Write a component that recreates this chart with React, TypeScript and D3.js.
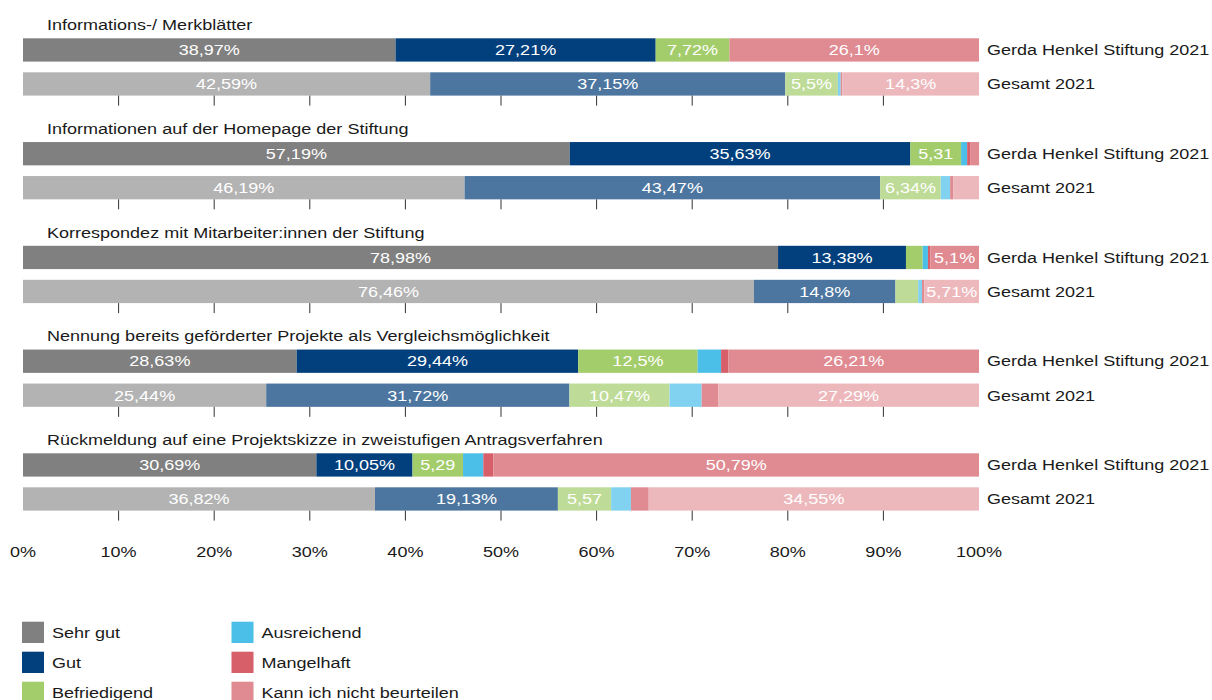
import React from "react";
import * as d3 from "d3";

const categories = [
  "Informations-/ Merkblätter",
  "Informationen auf der Homepage der Stiftung",
  "Korrespondez mit Mitarbeiter:innen der Stiftung",
  "Nennung bereits geförderter Projekte als Vergleichsmöglichkeit",
  "Rückmeldung auf eine Projektskizze in zweistufigen Antragsverfahren",
];
const seriesNames = ["Gerda Henkel Stiftung 2021", "Gesamt 2021"];
const ratings = ["Sehr gut", "Gut", "Befriedigend", "Ausreichend", "Mangelhaft", "Kann ich nicht beurteilen"];

const ghsSehrGut = [38.97, 57.19, 78.98, 28.63, 30.69];
const ghsGut = [27.21, 35.63, 13.38, 29.44, 10.05];
const ghsBefriedigend = [7.72, 5.31, 1.75, 12.5, 5.29];
const ghsAusreichend = [0, 0.63, 0.55, 2.45, 2.12];
const ghsMangelhaft = [0, 0.31, 0.24, 0.77, 1.06];
const ghsKann = [26.1, 0.94, 5.1, 26.21, 50.79];

const gesSehrGut = [42.59, 46.19, 76.46, 25.44, 36.82];
const gesGut = [37.15, 43.47, 14.8, 31.72, 19.13];
const gesBefriedigend = [5.5, 6.34, 2.38, 10.47, 5.57];
const gesAusreichend = [0.3, 0.98, 0.4, 3.36, 2.07];
const gesMangelhaft = [0.16, 0.35, 0.25, 1.72, 1.86];
const gesKann = [14.3, 2.67, 5.71, 27.29, 34.55];

const xTicks = [0, 10, 20, 30, 40, 50, 60, 70, 80, 90, 100];

const colorsGHS = ["#808080", "#023f7d", "#a3cc6b", "#4bbfe8", "#d75f6a", "#e08a92"];
const colorsGes = ["#b3b3b3", "#4c769f", "#bedc97", "#80d2f0", "#e08a92", "#edb8bc"];

const ghsCols = [ghsSehrGut, ghsGut, ghsBefriedigend, ghsAusreichend, ghsMangelhaft, ghsKann];
const gesCols = [gesSehrGut, gesGut, gesBefriedigend, gesAusreichend, gesMangelhaft, gesKann];

const FS = 15.5;
const SX = 1.163;
const FONT = "'Liberation Sans', Arial, sans-serif";

function charW(c: string) {
  if (c === ",") return 0.278;
  if (c === "%") return 0.889;
  return 0.556;
}
function textW(s: string) {
  let w = 0;
  for (const c of s) w += charW(c);
  return w * FS * SX;
}
function fmt(v: number) {
  return String(v).replace(".", ",");
}

function T({ x, y, children, anchor = "start", fill = "#1a1a1a" }: any) {
  return (
    <text
      transform={`translate(${x},${y}) scale(${SX},1)`}
      textAnchor={anchor}
      fontFamily={FONT}
      fontSize={FS}
      fill={fill}
    >
      {children}
    </text>
  );
}

export default function App() {
  const width = 1212;
  const height = 700;
  const x = d3.scaleLinear().domain([0, 100]).range([23, 979]);

  const yGroup = d3.scaleBand<string>().domain(categories).range([38.3, 38.3 + 103.75 * 5]).paddingInner(0).paddingOuter(0);
  const ySub = d3.scaleBand<string>().domain(seriesNames).range([0, 57.3]).paddingInner(0.315).paddingOuter(0);

  const rowsFor = (cols: number[][]) =>
    categories.map((c, i) => {
      const o: any = { cat: c };
      ratings.forEach((r, j) => (o[r] = cols[j][i]));
      return o;
    });
  const stack = d3.stack<any>().keys(ratings);
  const stacks = [stack(rowsFor(ghsCols)), stack(rowsFor(gesCols))];
  const palettes = [colorsGHS, colorsGes];

  const bh = ySub.bandwidth();
  const axisY = 557;

  return (
    <svg width={width} height={height} style={{ position: "absolute", left: 0, top: 0, background: "#fff" }}>
      {categories.map((cat, ci) => {
        const gy = yGroup(cat)!;
        const y2 = gy + ySub(seriesNames[1])!;
        return (
          <g key={cat}>
            <T x={47} y={gy - 8.3}>{cat}</T>
            {seriesNames.map((sn, si) => {
              const by = gy + ySub(sn)!;
              return (
                <g key={sn}>
                  {stacks[si].map((layer, li) => {
                    const d = layer[ci];
                    const x0 = x(d[0]);
                    const x1 = x(d[1]);
                    const w = x1 - x0;
                    if (w <= 0) return null;
                    const v = d[1] - d[0];
                    let label = fmt(+v.toFixed(2)) + "%";
                    if (textW(label) + 3 > w) label = fmt(+v.toFixed(2));
                    if (textW(label) + 3 > w) label = "";
                    return (
                      <g key={li}>
                        <rect x={x0} y={by} width={w} height={bh} fill={palettes[si][li]} />
                        {label && (
                          <T x={(x0 + x1) / 2} y={by + bh / 2 + 5.3} anchor="middle" fill="#ffffff">
                            {label}
                          </T>
                        )}
                      </g>
                    );
                  })}
                  <T x={987} y={by + bh / 2 + 5.3}>{sn}</T>
                </g>
              );
            })}
            {xTicks.filter((t) => t > 0 && t < 100).map((t) => (
              <line key={t} x1={x(t)} x2={x(t)} y1={y2 + bh} y2={y2 + bh + 10} stroke="#333" strokeWidth={1} />
            ))}
          </g>
        );
      })}
      {xTicks.map((t) => (
        <T key={t} x={x(t)} y={axisY} anchor="middle">{t + "%"}</T>
      ))}
      {ratings.map((r, i) => {
        const col = Math.floor(i / 3);
        const row = i % 3;
        const lx = col === 0 ? 22 : 231.5;
        const ly = 621.7 + row * 30;
        return (
          <g key={r}>
            <rect x={lx} y={ly} width={22} height={21.3} fill={colorsGHS[i]} />
            <T x={lx + 30} y={ly + 16.3}>{r}</T>
          </g>
        );
      })}
    </svg>
  );
}
